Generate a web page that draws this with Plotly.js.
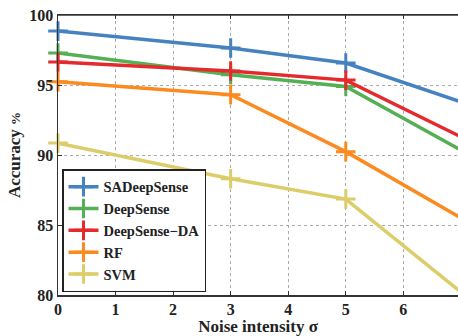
<!DOCTYPE html>
<html><head><meta charset="utf-8">
<script src="https://cdn.plot.ly/plotly-3.0.1.min.js"></script>
<style>html,body{margin:0;padding:0;background:#fff}#c{width:458px;height:336px}</style>
</head><body><div id="c"></div>
<script>
const noise = [0, 3, 5, 7];
const names = ["SADeepSense", "DeepSense", "DeepSense\u2212DA", "RF", "SVM"];
const saDeepSense = [98.85, 97.64, 96.57, 93.8];
const deepSense = [97.28, 95.74, 94.9, 90.35];
const deepSenseDA = [96.64, 96.0, 95.35, 91.3];
const rf = [95.24, 94.3, 90.24, 85.5];
const svm = [90.85, 88.3, 86.85, 80.2];
const xTicks = [0, 1, 2, 3, 4, 5, 6, 7];
const yTicks = [80, 85, 90, 95, 100];
const colors = ["#4682bf", "#55af55", "#e52a2e", "#fb8a20", "#dccd6a"];
const series = [saDeepSense, deepSense, deepSenseDA, rf, svm];

const fam = "Liberation Serif, Times New Roman, serif";
const F = (s) => ({family: fam, size: s, color: "#222"});
const B = (t) => "<b>" + t + "</b>";
const traces = series.map((y, i) => ({
  x: noise, y: y, name: B(names[i]), type: "scatter", mode: "lines+markers",
  line: {color: colors[i], width: 3.5},
  marker: {symbol: "cross-thin", size: 14, line: {color: colors[i], width: 3}},
  cliponaxis: false
}));
const layout = {
  width: 458, height: 336,
  margin: {l: 58, r: 0, t: 15, b: 41},
  paper_bgcolor: "#fff", plot_bgcolor: "#fff",
  font: F(14),
  showlegend: true,
  legend: {x: 0.01, y: 0.01, xanchor: "left", yanchor: "bottom",
    bgcolor: "#fff", bordercolor: "#222", borderwidth: 1.5,
    font: F(14.5), tracegroupgap: 0, itemwidth: 30},
  xaxis: {range: [0, 6.95], tickvals: xTicks, ticktext: xTicks.map(v => B(v)),
    showline: true, linecolor: "#333", linewidth: 1.5, mirror: "ticks",
    ticks: "inside", ticklen: 4, tickcolor: "#333", ticklabelstandoff: -1,
    showgrid: true, gridcolor: "#aaa", griddash: "dot", gridwidth: 1,
    zeroline: false, tickfont: F(16),
    title: {text: B("Noise intensity \u03c3"), font: F(17), standoff: 0}},
  yaxis: {range: [80, 100], tickvals: yTicks, ticktext: yTicks.map(v => B(v)),
    showline: true, linecolor: "#333", linewidth: 1.5, mirror: false,
    ticks: "inside", ticklen: 4, tickcolor: "#333",
    showgrid: true, gridcolor: "#aaa", griddash: "dot", gridwidth: 1,
    zeroline: false, tickfont: F(16),
    title: {text: B("Accuracy <span style='font-size:13px'>%</span>"), font: F(17), standoff: 4}},
  shapes: [{type: "line", xref: "paper", yref: "paper", x0: 0, x1: 1, y0: 1, y1: 1, line: {color: "#333", width: 1.5}}]
};
Plotly.newPlot("c", traces, layout, {staticPlot: true, displayModeBar: false});
</script></body></html>
